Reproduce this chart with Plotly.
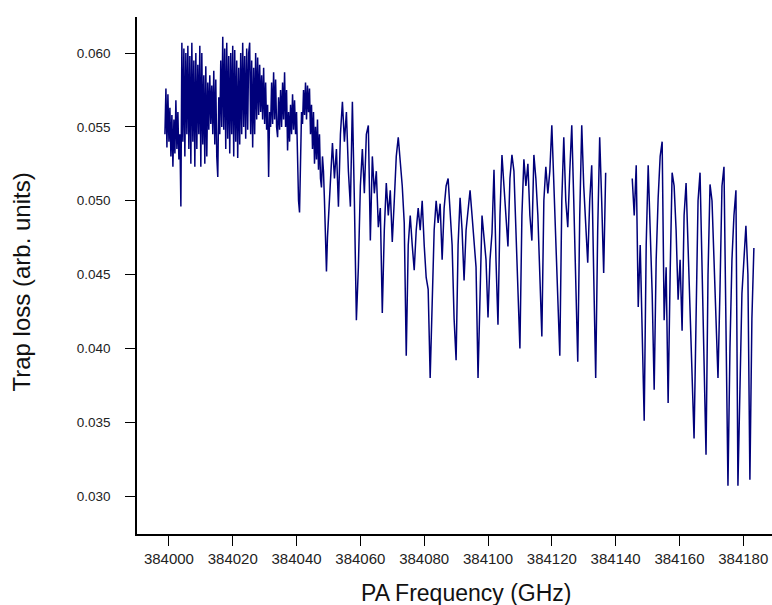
import numpy as np
import plotly.graph_objects as go

# Scan part A (finely sampled start), part B (rest before the gap), part C (after the gap)
partA_start, partA_step = 383998.75, 0.3125
partB_start, partB_step = 384050.625, 0.625
partC_start, partC_step = 384145.2, 0.625

loss_A = [
    0.0545, 0.0576, 0.0536, 0.0572, 0.0540, 0.0563, 0.0530, 0.0558, 0.0523, 0.0555,
    0.0532, 0.0568, 0.0535, 0.0560, 0.0528, 0.0545, 0.0496, 0.0607, 0.0540, 0.0603,
    0.0530, 0.0600, 0.0545, 0.0605, 0.0535, 0.0598, 0.0525, 0.0607, 0.0540, 0.0595,
    0.0523, 0.0600, 0.0535, 0.0592, 0.0545, 0.0605, 0.0523, 0.0600, 0.0538, 0.0585,
    0.0525, 0.0591, 0.0530, 0.0580, 0.0548, 0.0585, 0.0552, 0.0578, 0.0545, 0.0588,
    0.0538, 0.0582, 0.0530, 0.0516, 0.0570, 0.0545, 0.0595, 0.0550, 0.0611, 0.0548,
    0.0603, 0.0535, 0.0607, 0.0542, 0.0598, 0.0532, 0.0600, 0.0545, 0.0605, 0.0530,
    0.0602, 0.0540, 0.0595, 0.0529, 0.0590, 0.0538, 0.0600, 0.0545, 0.0607, 0.0550,
    0.0598, 0.0542, 0.0603, 0.0548, 0.0600, 0.0607, 0.0545, 0.0595, 0.0536, 0.0590,
    0.0545, 0.0600, 0.0555, 0.0597, 0.0558, 0.0592, 0.0560, 0.0585, 0.0555, 0.0590,
    0.0552, 0.0580, 0.0548, 0.0565, 0.0516, 0.0560, 0.0550, 0.0580, 0.0552, 0.0587,
    0.0555, 0.0582, 0.0550, 0.0543, 0.0570, 0.0548, 0.0575, 0.0550, 0.0580, 0.0555,
    0.0587, 0.0550, 0.0575, 0.0534, 0.0560, 0.0540, 0.0565, 0.0545, 0.0572, 0.0548,
    0.0568, 0.0545, 0.0560, 0.0520, 0.0500, 0.0492, 0.0530, 0.0560, 0.0552, 0.0575,
    0.0558, 0.0580, 0.0555, 0.0578, 0.0560, 0.0576, 0.0545, 0.0565, 0.0535, 0.0560,
    0.0525, 0.0550, 0.0528, 0.0555, 0.0521, 0.0545, 0.0515, 0.0509, 0.0530, 0.0520,
    0.0500, 0.0470, 0.0452, 0.0475, 0.0490,
]

loss_B = [
    0.0520, 0.0539, 0.0515, 0.0535, 0.0496, 0.0545, 0.0567,
    0.0540, 0.0560, 0.0520, 0.0496, 0.0567, 0.0500, 0.0419, 0.0455, 0.0510, 0.0535,
    0.0505, 0.0545, 0.0551, 0.0473, 0.0530, 0.0505, 0.0520, 0.0482, 0.0495, 0.0424,
    0.0480, 0.0512, 0.0490, 0.0507, 0.0472, 0.0500, 0.0530, 0.0543, 0.0525, 0.0510,
    0.0485, 0.0395, 0.0470, 0.0490, 0.0470, 0.0453, 0.0480, 0.0495, 0.0480, 0.0500,
    0.0470, 0.0448, 0.0440, 0.0380, 0.0430, 0.0480, 0.0500, 0.0485, 0.0498, 0.0460,
    0.0495, 0.0510, 0.0515, 0.0490, 0.0470, 0.0420, 0.0392, 0.0470, 0.0502, 0.0480,
    0.0446, 0.0480, 0.0495, 0.0507, 0.0490, 0.0470, 0.0455, 0.0380, 0.0430, 0.0490,
    0.0475, 0.0460, 0.0421, 0.0460, 0.0478, 0.0521, 0.0460, 0.0416, 0.0490, 0.0531,
    0.0510, 0.0490, 0.0469, 0.0515, 0.0531, 0.0520, 0.0480, 0.0430, 0.0400, 0.0490,
    0.0528, 0.0510, 0.0525, 0.0490, 0.0473, 0.0531, 0.0515, 0.0490, 0.0440, 0.0408,
    0.0500, 0.0523, 0.0505, 0.0520, 0.0551, 0.0510, 0.0480, 0.0430, 0.0395, 0.0500,
    0.0543, 0.0500, 0.0482, 0.0520, 0.0551, 0.0500, 0.0440, 0.0391, 0.0490, 0.0551,
    0.0510, 0.0480, 0.0458, 0.0500, 0.0524, 0.0450, 0.0380, 0.0480, 0.0543, 0.0500,
    0.0451, 0.0519,
]

loss_C = [
    0.0515, 0.0490, 0.0524, 0.0428, 0.0470, 0.0400, 0.0351, 0.0470, 0.0524, 0.0480,
    0.0437, 0.0372, 0.0460, 0.0502, 0.0530, 0.0540, 0.0419, 0.0455, 0.0363, 0.0450,
    0.0519, 0.0510, 0.0480, 0.0433, 0.0460, 0.0412, 0.0490, 0.0512, 0.0470, 0.0414,
    0.0380, 0.0339, 0.0420, 0.0500, 0.0519, 0.0455, 0.0390, 0.0328, 0.0450, 0.0511,
    0.0500, 0.0460, 0.0420, 0.0380, 0.0440, 0.0510, 0.0523, 0.0420, 0.0307, 0.0400,
    0.0460, 0.0490, 0.0507, 0.0307, 0.0380, 0.0437, 0.0460, 0.0483, 0.0450, 0.0311,
    0.0420, 0.0468,
]

x_ticks = [384000, 384020, 384040, 384060, 384080, 384100, 384120, 384140, 384160, 384180]
y_ticks = [0.030, 0.035, 0.040, 0.045, 0.050, 0.055, 0.060]

freqA = partA_start + partA_step * np.arange(len(loss_A))
freqB = partB_start + partB_step * np.arange(len(loss_B))
freqC = partC_start + partC_step * np.arange(len(loss_C))

x = list(freqA) + list(freqB) + [None] + list(freqC)
y = list(loss_A) + list(loss_B) + [None] + list(loss_C)

fig = go.Figure()
fig.add_trace(go.Scatter(x=x, y=y, mode="lines",
                         line=dict(color="#00007a", width=1.5),
                         connectgaps=False, showlegend=False))

font_family = "Liberation Sans, Arial, sans-serif"
fig.update_layout(
    width=772, height=605,
    margin=dict(l=137, r=0, t=17, b=71),
    paper_bgcolor="white", plot_bgcolor="white",
    font=dict(family=font_family, color="#222222"),
    annotations=[
        dict(text="PA Frequency (GHz)", xref="paper", yref="paper",
             x=0.518, y=0, yshift=-59, xanchor="center", yanchor="middle",
             showarrow=False, font=dict(size=23, family=font_family, color="#111111")),
        dict(text="Trap loss (arb. units)", xref="paper", yref="paper",
             x=0, xshift=-116, y=0.5, yshift=-7, textangle=-90,
             xanchor="center", yanchor="middle",
             showarrow=False, font=dict(size=24, family=font_family, color="#111111")),
    ],
)
fig.update_xaxes(
    range=[383990.0, 384189.0],
    tickvals=x_ticks, ticktext=[str(v) for v in x_ticks],
    ticks="outside", ticklen=10, tickwidth=1.3, tickcolor="black",
    showline=True, linecolor="black", linewidth=1.5, mirror=False,
    showgrid=False, zeroline=False,
    tickfont=dict(size=15, family=font_family, color="#222222"),
)
fig.update_yaxes(
    range=[0.02743, 0.06244],
    tickvals=y_ticks, ticktext=["%.3f" % v for v in y_ticks],
    ticks="outside", ticklen=10, tickwidth=1.3, tickcolor="black",
    showline=True, linecolor="black", linewidth=1.5, mirror=False,
    showgrid=False, zeroline=False, ticklabelstandoff=12,
    tickfont=dict(size=13.5, family=font_family, color="#222222"),
)

fig.write_html("out.html")
